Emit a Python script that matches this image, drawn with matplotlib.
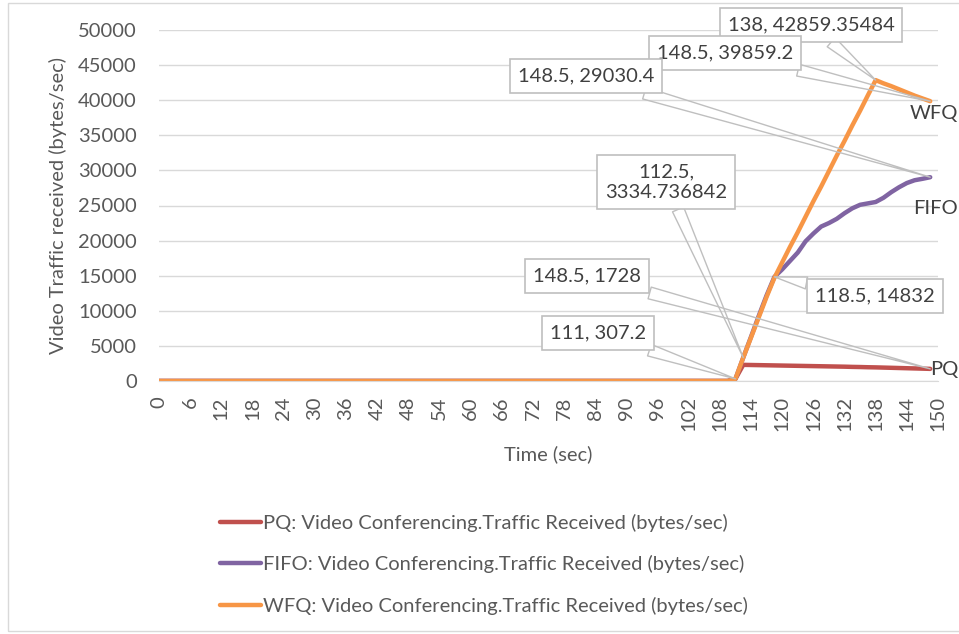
import numpy as np
import matplotlib
matplotlib.use("Agg")
import matplotlib.pyplot as plt
from matplotlib.patches import Rectangle

plt.rcParams['font.family'] = ['Lato', 'DejaVu Sans']

# time axis: one sample every 1.5 s
time = np.arange(0, 150, 1.5)
n_zero = 74  # 0 .. 109.5 s nothing received

pq = [0] * n_zero + [
    307.2, 2300, 2280, 2260, 2240, 2220, 2200, 2180, 2160, 2140, 2120, 2100,
    2080, 2060, 2040, 2010, 1990, 1960, 1940, 1910, 1880, 1850, 1820, 1790, 1760, 1728]
fifo = [0] * n_zero + [
    307.2, 3334.7, 6300, 9300, 12200, 14832, 15900, 17100, 18300, 19900, 21000, 22000,
    22500, 23100, 23900, 24600, 25100, 25300, 25500, 26100, 26900, 27600, 28200, 28600,
    28800, 29030.4]
wfq = [0] * n_zero + [
    307.2, 3334.736842, 6200, 9100, 12000, 14700, 16900, 19100, 21200, 23400, 25600,
    27700, 29900, 32100, 34200, 36400, 38500, 40700, 42859.35484, 42400, 42000, 41550,
    41100, 40650, 40250, 39859.2]

series_names = ["PQ", "FIFO", "WFQ"]
legend_labels = [f"{s}: Video Conferencing.Traffic Received (bytes/sec)" for s in series_names]
colors = ["#C0504D", "#8064A2", "#F79646"]

x_ticks = list(range(0, 151, 6))
y_ticks = list(range(0, 50001, 5000))

# callouts: (text, x, y, box centre in image pixels)
callouts = [
    ("138, 42859.35484", 138, 42859.35484, (811, 25)),
    ("148.5, 39859.2", 148.5, 39859.2, (725, 53)),
    ("148.5, 29030.4", 148.5, 29030.4, (586, 76)),
    ("112.5,\n3334.736842", 112.5, 3334.736842, (666, 182)),
    ("148.5, 1728", 148.5, 1728, (587, 276)),
    ("118.5, 14832", 118.5, 14832, (875, 296)),
    ("111, 307.2", 111, 307.2, (598, 333)),
]

W, H = 959, 634
FS = 14.5
fig = plt.figure(figsize=(W / 100, H / 100), dpi=100)
ax = fig.add_axes([159 / W, 1 - 381 / H, (938 - 159) / W, (381 - 30) / H])

for vals, c, lab in zip([pq, fifo, wfq], colors, legend_labels):
    ax.plot(time, vals, color=c, lw=3.2, solid_capstyle='round', solid_joinstyle='round', label=lab)

ax.set_xlim(0, 150)
ax.set_ylim(0, 50000)
ax.set_xticks(x_ticks)
ax.set_xticklabels([str(t) for t in x_ticks], rotation=90)
ax.set_yticks(y_ticks)
ax.grid(axis='y', color='#D9D9D9', lw=1)
ax.set_axisbelow(True)
for s in ['top', 'right', 'left']:
    ax.spines[s].set_visible(False)
ax.spines['bottom'].set_color('#D9D9D9')
ax.tick_params(length=0, labelsize=FS, colors='#595959')
ax.tick_params(axis='y', pad=16)
ax.tick_params(axis='x', pad=11)
ax.set_xlabel("Time (sec)", fontsize=FS, color='#595959', labelpad=10)
ax.set_ylabel("Video Traffic received (bytes/sec)", fontsize=FS, color='#595959', labelpad=8)

for text, x, y, (bx, by) in callouts:
    ax.annotate(text, xy=(x, y), xytext=(bx, H - by), textcoords='figure pixels',
                ha='center', va='center', fontsize=FS, color='#404040', linespacing=1.25,
                bbox=dict(boxstyle='square,pad=0.4', fc='white', ec='#BFBFBF', lw=1.2),
                arrowprops=dict(arrowstyle='wedge,tail_width=0.6', fc='none', ec='#BFBFBF',
                                lw=1, shrinkA=0, shrinkB=0),
                zorder=5)

# series name labels at line ends
for name, (px, py) in zip(series_names, [(930, 370), (913, 208), (910, 113)]):
    fig.text(px / W, 1 - py / H, name, fontsize=FS, color='#404040', va='center', ha='left')

fig.legend(loc='upper center', bbox_to_anchor=(484 / W, 1 - 496 / H), frameon=False,
           fontsize=FS, labelcolor='#595959', handlelength=2.0, handletextpad=0.1,
           labelspacing=1.15)

fig.patches.append(Rectangle((8 / W, 3 / H), 1.2, 1 - 6 / H, transform=fig.transFigure,
                             fill=False, ec='#D9D9D9', lw=1))

fig.savefig("out.png", dpi=100)
